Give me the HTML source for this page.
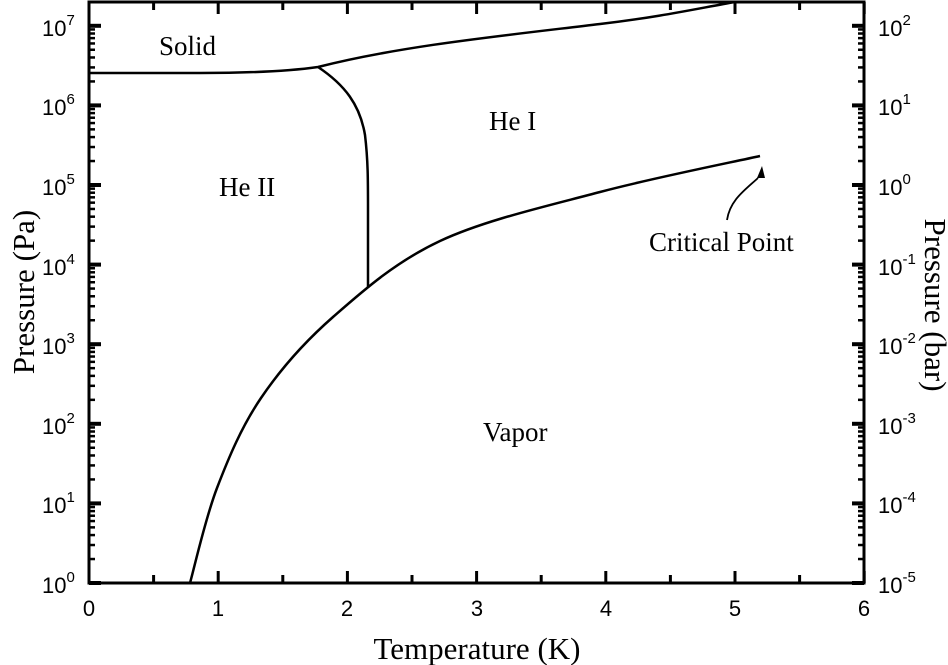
<!DOCTYPE html>
<html><head><meta charset="utf-8"><style>
html,body{margin:0;padding:0;background:#fff;}
svg{display:block;}
.t{font-family:"Liberation Serif",serif;fill:#000;}
.s{font-family:"Liberation Sans",sans-serif;fill:#000;}
</style></head><body>
<svg width="948" height="665" viewBox="0 0 948 665" xmlns="http://www.w3.org/2000/svg">
<g id="ticks" stroke="#000" fill="none">
</g>
<rect x="89" y="2" width="775" height="581" fill="none" stroke="#000" stroke-width="3"/>
<g fill="none" stroke="#000" stroke-width="2.5" stroke-linejoin="round">
<path d="M89,73 L200,73 C250,73 290,71 318,67 C400,46 500,36 600,24 C660,17 700,8 735,2"/>
<path d="M318,67 C345,85 360,105 365,135 C368,160 368,180 368,210 L368,288"/>
<path id="vap"/>
<path d="M727,220 C730,200 745,190 758,178" stroke-width="1.8"/>
</g>
<polygon points="762,166 757,178 765,178" fill="#000"/>
<g class="t" font-size="27">
<text x="159" y="55">Solid</text>
<text x="489" y="130">He I</text>
<text x="219" y="196">He II</text>
<text x="483" y="441">Vapor</text>
<text x="649" y="251">Critical Point</text>
</g>
<text class="t" font-size="31" x="477" y="659" text-anchor="middle">Temperature (K)</text>
<text class="t" font-size="31" transform="translate(34,292) rotate(-90)" text-anchor="middle">Pressure (Pa)</text>
<text class="t" font-size="31" transform="translate(925,305) rotate(90)" text-anchor="middle">Pressure (bar)</text>
<g class="s" font-size="22" text-anchor="middle">
<text x="89" y="616">0</text><text x="218" y="616">1</text><text x="347" y="616">2</text><text x="477" y="616">3</text><text x="606" y="616">4</text><text x="735" y="616">5</text><text x="864" y="616">6</text>
</g>
<g class="s" font-size="22">
<text x="42" y="593">10<tspan font-size="15" dy="-11">0</tspan></text>
<text x="42" y="513">10<tspan font-size="15" dy="-11">1</tspan></text>
<text x="42" y="434">10<tspan font-size="15" dy="-11">2</tspan></text>
<text x="42" y="354">10<tspan font-size="15" dy="-11">3</tspan></text>
<text x="42" y="275">10<tspan font-size="15" dy="-11">4</tspan></text>
<text x="42" y="195">10<tspan font-size="15" dy="-11">5</tspan></text>
<text x="42" y="115">10<tspan font-size="15" dy="-11">6</tspan></text>
<text x="42" y="36">10<tspan font-size="15" dy="-11">7</tspan></text>
<text x="878" y="593">10<tspan font-size="15" dy="-11">-5</tspan></text>
<text x="878" y="513">10<tspan font-size="15" dy="-11">-4</tspan></text>
<text x="878" y="434">10<tspan font-size="15" dy="-11">-3</tspan></text>
<text x="878" y="354">10<tspan font-size="15" dy="-11">-2</tspan></text>
<text x="878" y="275">10<tspan font-size="15" dy="-11">-1</tspan></text>
<text x="878" y="195">10<tspan font-size="15" dy="-11">0</tspan></text>
<text x="878" y="115">10<tspan font-size="15" dy="-11">1</tspan></text>
<text x="878" y="36">10<tspan font-size="15" dy="-11">2</tspan></text>
</g>
</svg>
<script>
(function(){
var g=document.getElementById('ticks'),ns='http://www.w3.org/2000/svg';
function L(x1,y1,x2,y2,w){var l=document.createElementNS(ns,'line');l.setAttribute('x1',x1);l.setAttribute('y1',y1);l.setAttribute('x2',x2);l.setAttribute('y2',y2);l.setAttribute('stroke-width',w);g.appendChild(l);}
for(var i=0;i<=12;i++){var x=89+i*64.6;var len=i%2==0?12:8;L(x,583,x,583-len,3);L(x,2,x,2+len,3);}
for(var n=0;n<8;n++){for(var k=1;k<10;k++){var y=583-79.6*(n+Math.log10(k));if(y<2)continue;var len=k==1?12:6;L(89,y,89+len,y,k==1?4:2.5);L(864,y,864-len,y,k==1?4:2.5);}}
var P=[[190,583],[217,488],[261,398],[333,317],[440,241],[600,192],[760,156]];
var d='M'+P[0][0]+','+P[0][1];
for(var i=0;i<P.length-1;i++){var p0=P[Math.max(0,i-1)],p1=P[i],p2=P[i+1],p3=P[Math.min(P.length-1,i+2)];
d+=' C'+(p1[0]+(p2[0]-p0[0])/6)+','+(p1[1]+(p2[1]-p0[1])/6)+' '+(p2[0]-(p3[0]-p1[0])/6)+','+(p2[1]-(p3[1]-p1[1])/6)+' '+p2[0]+','+p2[1];}
document.getElementById('vap').setAttribute('d',d);
})();
</script>
</body></html>
